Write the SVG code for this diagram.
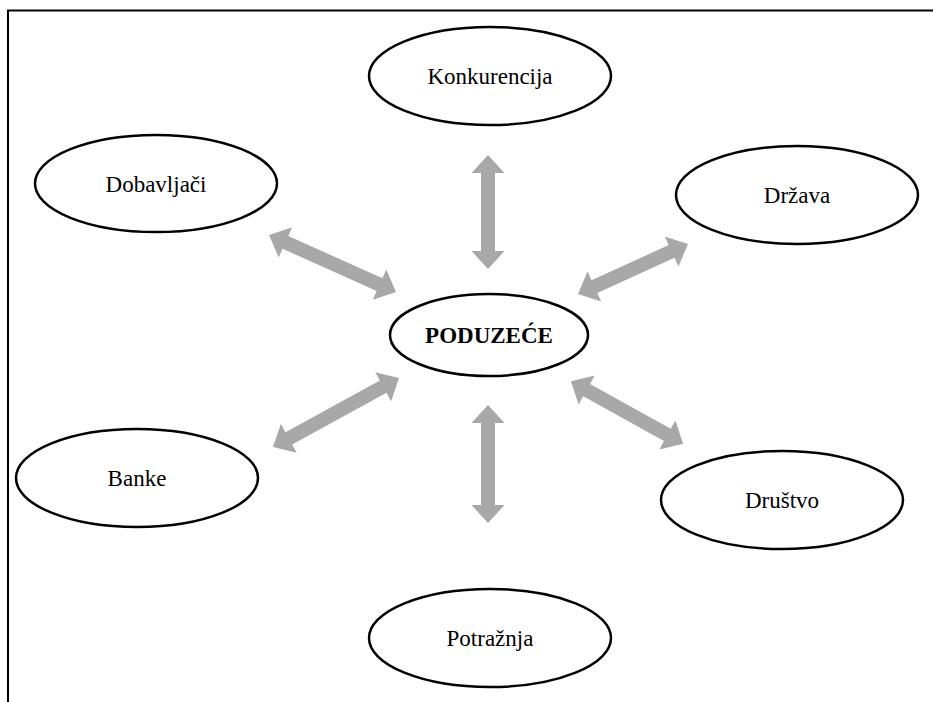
<svg xmlns="http://www.w3.org/2000/svg" width="933" height="702" viewBox="0 0 933 702">
<style>
.node ellipse{fill:#fff;stroke:#000;stroke-width:2.5}
.node text{font-family:"Liberation Serif","Times New Roman",serif;font-size:23px;text-anchor:middle;fill:#000}
.node text.b{font-weight:bold}
.conn path{fill:#a8a8a8;stroke:none}
.frame{stroke:#000;stroke-width:2;fill:none}
</style>
<rect width="933" height="702" fill="#fff"/>
<path class="frame" d="M8,702 V10.5 H933"/>
<g id="connectors" class="conn">
<path transform="translate(488,212) rotate(90)" d="M-57,0 L-39,-16.5 L-39,-7 L39,-7 L39,-16.5 L57,0 L39,16.5 L39,7 L-39,7 L-39,16.5 Z"/>
<path transform="translate(488,464) rotate(90)" d="M-59,0 L-41,-16.5 L-41,-7 L41,-7 L41,-16.5 L59,0 L41,16.5 L41,7 L-41,7 L-41,16.5 Z"/>
<path transform="translate(332.5,263.5) rotate(24.2)" d="M-69.6,0 L-51.6,-16.5 L-51.6,-7 L51.6,-7 L51.6,-16.5 L69.6,0 L51.6,16.5 L51.6,7 L-51.6,7 L-51.6,16.5 Z"/>
<path transform="translate(633,269) rotate(-24.4)" d="M-60.4,0 L-42.4,-16.5 L-42.4,-7 L42.4,-7 L42.4,-16.5 L60.4,0 L42.4,16.5 L42.4,7 L-42.4,7 L-42.4,16.5 Z"/>
<path transform="translate(336,412.5) rotate(-28.7)" d="M-71.8,0 L-53.8,-16.5 L-53.8,-7 L53.8,-7 L53.8,-16.5 L71.8,0 L53.8,16.5 L53.8,7 L-53.8,7 L-53.8,16.5 Z"/>
<path transform="translate(627,412.5) rotate(29.1)" d="M-64.2,0 L-46.2,-16.5 L-46.2,-7 L46.2,-7 L46.2,-16.5 L64.2,0 L46.2,16.5 L46.2,7 L-46.2,7 L-46.2,16.5 Z"/>
</g>
<g id="konkurencija" class="node"><ellipse cx="490" cy="76" rx="121" ry="49"/><text x="490" y="84">Konkurencija</text></g>
<g id="dobavljaci" class="node"><ellipse cx="156" cy="183.5" rx="121" ry="48.5"/><text x="156" y="191.5">Dobavljači</text></g>
<g id="drzava" class="node"><ellipse cx="797" cy="195" rx="121" ry="49"/><text x="797" y="203">Država</text></g>
<g id="poduzece" class="node"><ellipse cx="489" cy="335" rx="99" ry="41"/><text class="b" x="489" y="343">PODUZEĆE</text></g>
<g id="banke" class="node"><ellipse cx="137" cy="478" rx="121" ry="49"/><text x="137" y="486">Banke</text></g>
<g id="drustvo" class="node"><ellipse cx="782" cy="500" rx="121" ry="49"/><text x="782" y="508">Društvo</text></g>
<g id="potraznja" class="node"><ellipse cx="490" cy="638" rx="121" ry="49"/><text x="490" y="646">Potražnja</text></g>
</svg>
